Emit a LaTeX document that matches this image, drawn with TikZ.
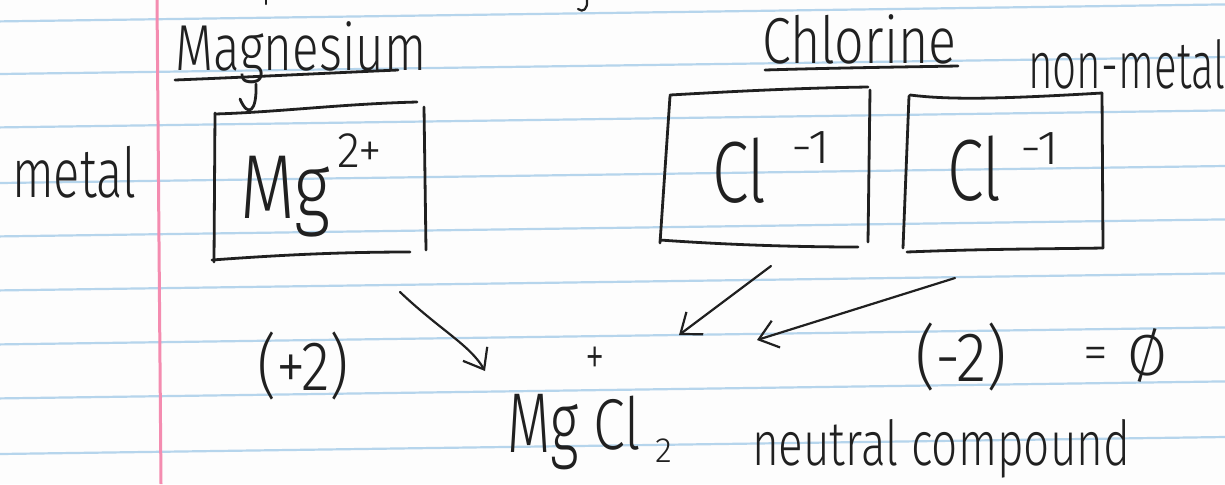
\documentclass[tikz,border=0pt]{standalone}
\usepackage{fontspec}
\usetikzlibrary{arrows.meta}
\newfontfamily\hand{Fira Sans Light}
\definecolor{inkc}{RGB}{32,32,32}
\definecolor{rulec}{RGB}{182,213,236}
\definecolor{marginc}{RGB}{244,140,176}
\definecolor{paperc}{RGB}{253,253,253}
\newcommand\hw[3]{{\hand\fontsize{#1}{#1}\selectfont\scalebox{#2}[1]{#3}}}
\tikzset{
  ink/.style={draw=inkc, line width=1.4pt, line cap=round, line join=round},
  thinink/.style={draw=inkc, line width=1.1pt, line cap=round, line join=round},
  txt/.style={inner sep=0pt, outer sep=0pt, anchor=base west, text=inkc},
  ctxt/.style={inner sep=0pt, outer sep=0pt, anchor=center, text=inkc},
  arr/.style={thinink, -{Straight Barb[length=9pt,width=14pt]}},
  rule/.style={draw=rulec, line width=1.1pt},
}
\begin{document}
\begin{tikzpicture}[x=0.5pt,y=-0.5pt]
\useasboundingbox (0,0) rectangle (1225,484);
\clip (0,0) rectangle (1225,484);
\fill[paperc] (0,0) rectangle (1225,484);
% ruled paper
\foreach \yy in {21.4,74,127.4,183,236.4,290.4,344.4,398.4,454}
  \draw[rule] (0,\yy) -- (1225,{\yy-17});
\draw[draw=marginc, line width=1.5pt] (157,0) -- (161,484);
% fragments of the line above
\draw[thinink] (266,0) -- (266,4);
\draw[thinink] (587,0) .. controls (588,9) and (583,13) .. (578,9);

% labels
\node[txt] (metal) at (12,197) {\hw{34.5pt}{0.71}{metal}};
\node[txt] (magn) at (175,70) {\hw{32.5pt}{0.76}{Magnesium}};
\draw[ink] (175,80) .. controls (250,77) and (330,73) .. (398,70);
\draw[ink] (256,84) .. controls (257,112) and (248,118) .. (240,99);
\node[txt] (chlor) at (762,63) {\hw{32.5pt}{0.8}{Chlorine}};
\draw[ink] (765,70) .. controls (830,68) and (900,67) .. (958,66);
\node[txt] (nonmetal) at (1028,88) {\hw{33pt}{0.64}{non-metal}};

% Mg box
\draw[ink] (215,114) .. controls (280,112) and (340,104) .. (417,102);
\draw[ink] (215,113) -- (214,262);
\draw[ink] (424,107) -- (426,250);
\draw[ink] (212,260) .. controls (280,255) and (340,252) .. (410,252);
\node[txt] (mg) at (240,218) {\hw{45.5pt}{0.78}{Mg}};
\node[txt] (mgch) at (337,167) {\hw{25pt}{0.95}{2+}};

% Cl box 1
\draw[ink] (670,95) .. controls (740,91) and (800,88) .. (868,87);
\draw[ink] (670,96) -- (660,243);
\draw[ink] (870,90) -- (868,242);
\draw[ink] (660,240) .. controls (730,245) and (800,247) .. (858,247);
\node[txt] (cla) at (712,202) {\hw{43.5pt}{0.76}{Cl}};
\node[txt] (clach) at (791,163) {\hw{24pt}{1.1}{-1}};

% Cl box 2
\draw[ink] (910,95) .. controls (950,100) and (1000,99) .. (1102,93);
\draw[ink] (909,96) -- (903,248);
\draw[ink] (1102,93) -- (1103,248);
\draw[ink] (907,252) .. controls (980,249) and (1040,249) .. (1103,248);
\node[txt] (clb) at (947,200) {\hw{43.5pt}{0.76}{Cl}};
\node[txt] (clbch) at (1020,164) {\hw{24pt}{1.1}{-1}};

% charges
\node[txt] (plustwo) at (257,390) {\hw{35pt}{0.85}{(+2)}};
\node[txt] (minustwo) at (915,381) {\hw{35pt}{0.9}{(-2)}};
\node[ctxt] (eq) at (1096,358) {\hw{25pt}{1}{=}};
\node[txt] (zero) at (1127,375) {\hw{29pt}{1}{Ø}};

% product
\node[ctxt] (plus) at (595,361) {\hw{28pt}{0.7}{+}};
\node[txt] (pmg) at (507,452) {\hw{42.5pt}{0.66}{Mg}};
\node[txt] (pcl) at (593,449) {\hw{36pt}{0.8}{Cl}};
\node[txt] (ptwo) at (655,462) {\hw{17.5pt}{1}{2}};
\node[txt] (neutral) at (752,465) {\hw{31pt}{0.74}{neutral compound}};

% arrows
\coordinate (a1s) at (400,292);
\coordinate (a1e) at (485,371);
\coordinate (a2s) at (771,266);
\coordinate (a2e) at (679,335);
\coordinate (a3s) at (955,278);
\coordinate (a3e) at (757,340);
\draw[arr] (a1s) .. controls (440,330) and (470,345) .. (a1e);
\draw[arr] (a2s) -- (a2e);
\draw[arr] (a3s) -- (a3e);
\end{tikzpicture}
\end{document}
